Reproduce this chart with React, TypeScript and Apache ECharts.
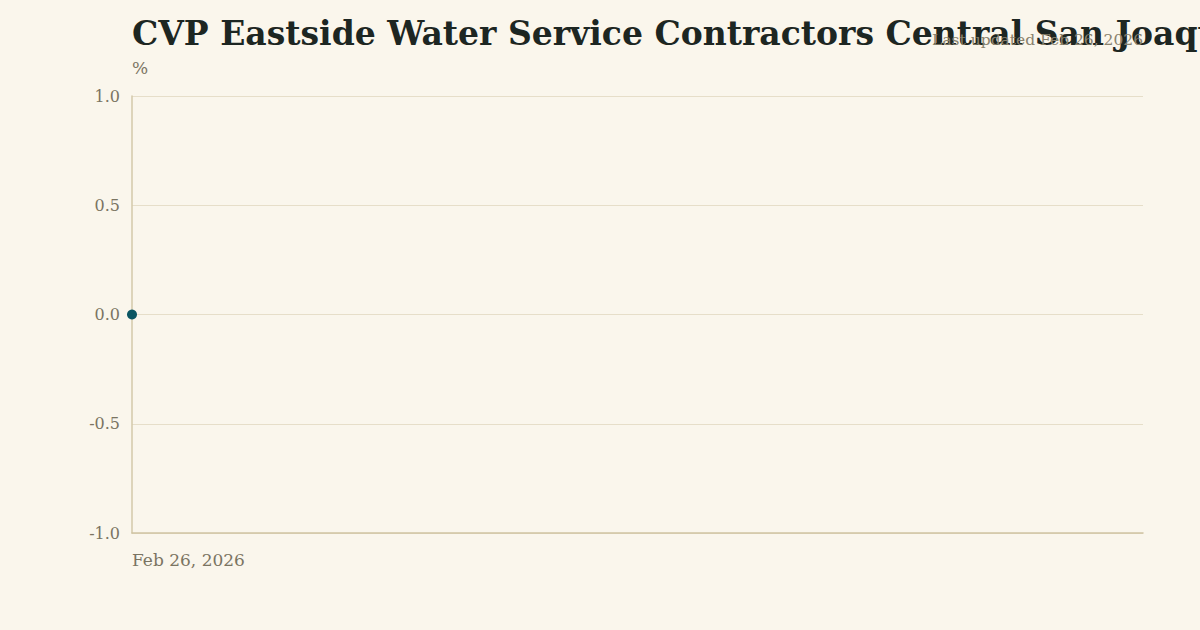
import React, { useEffect, useRef } from "react";
import * as echarts from "echarts";

const dates: string[] = ["Feb 26, 2026"];
const values: number[] = [0];
const titleText = "CVP Eastside Water Service Contractors Central San Joaquin Valley";
const subtitleText = "Last updated Feb 26, 2026";
const unitText = "%";

const FONT = "Georgia, 'DejaVu Serif', serif";

export default function App() {
  const ref = useRef<HTMLDivElement>(null);
  useEffect(() => {
    if (!ref.current) return;
    const chart = echarts.init(ref.current, undefined, { renderer: "svg" });
    chart.setOption({
      animation: false,
      backgroundColor: "#faf6ec",
      title: [
        {
          text: titleText,
          left: 132,
          top: 17,
          padding: 0,
          textStyle: { fontFamily: FONT, fontWeight: "bold", fontSize: 33, color: "#1d2622" },
        },
        {
          text: subtitleText,
          right: 57,
          top: 32,
          padding: 0,
          textStyle: { fontFamily: FONT, fontWeight: "normal", fontSize: 15.5, color: "#8a826e" },
        },
        {
          text: unitText,
          left: 132,
          top: 59,
          padding: 0,
          textStyle: { fontFamily: FONT, fontWeight: "normal", fontSize: 17, color: "#7a7462" },
        },
      ],
      grid: { left: 132, right: 57, top: 96, bottom: 97, containLabel: false },
      xAxis: {
        type: "value",
        min: 0,
        max: 1,
        interval: 1,
        axisLine: { show: true, onZero: false, lineStyle: { color: "#cfc3a2", width: 1.5 } },
        axisTick: { show: false },
        splitLine: { show: false },
        axisLabel: {
          fontFamily: FONT,
          fontSize: 17,
          color: "#7a7462",
          align: "left",
          margin: 18,
          formatter: (v: number) => (v === 0 ? dates[0] : ""),
        },
      },
      yAxis: {
        type: "value",
        min: -1,
        max: 1,
        interval: 0.5,
        axisLine: { show: true, lineStyle: { color: "#d3c8aa", width: 1.5 } },
        axisTick: { show: false },
        splitLine: { show: true, lineStyle: { color: "#e6dec9", width: 1 } },
        axisLabel: {
          fontFamily: FONT,
          fontSize: 16,
          color: "#7a7462",
          margin: 12,
          formatter: (v: number) => v.toFixed(1),
        },
      },
      series: [
        {
          type: "line",
          data: values.map((v, i) => [i, v]),
          symbol: "circle",
          symbolSize: 10,
          showSymbol: true,
          itemStyle: { color: "#0b5663" },
          lineStyle: { color: "#0b5663", width: 2 },
        },
      ],
    });
    return () => chart.dispose();
  }, []);
  return <div ref={ref} style={{ width: 1200, height: 630, position: "absolute", left: 0, top: 0 }} />;
}
